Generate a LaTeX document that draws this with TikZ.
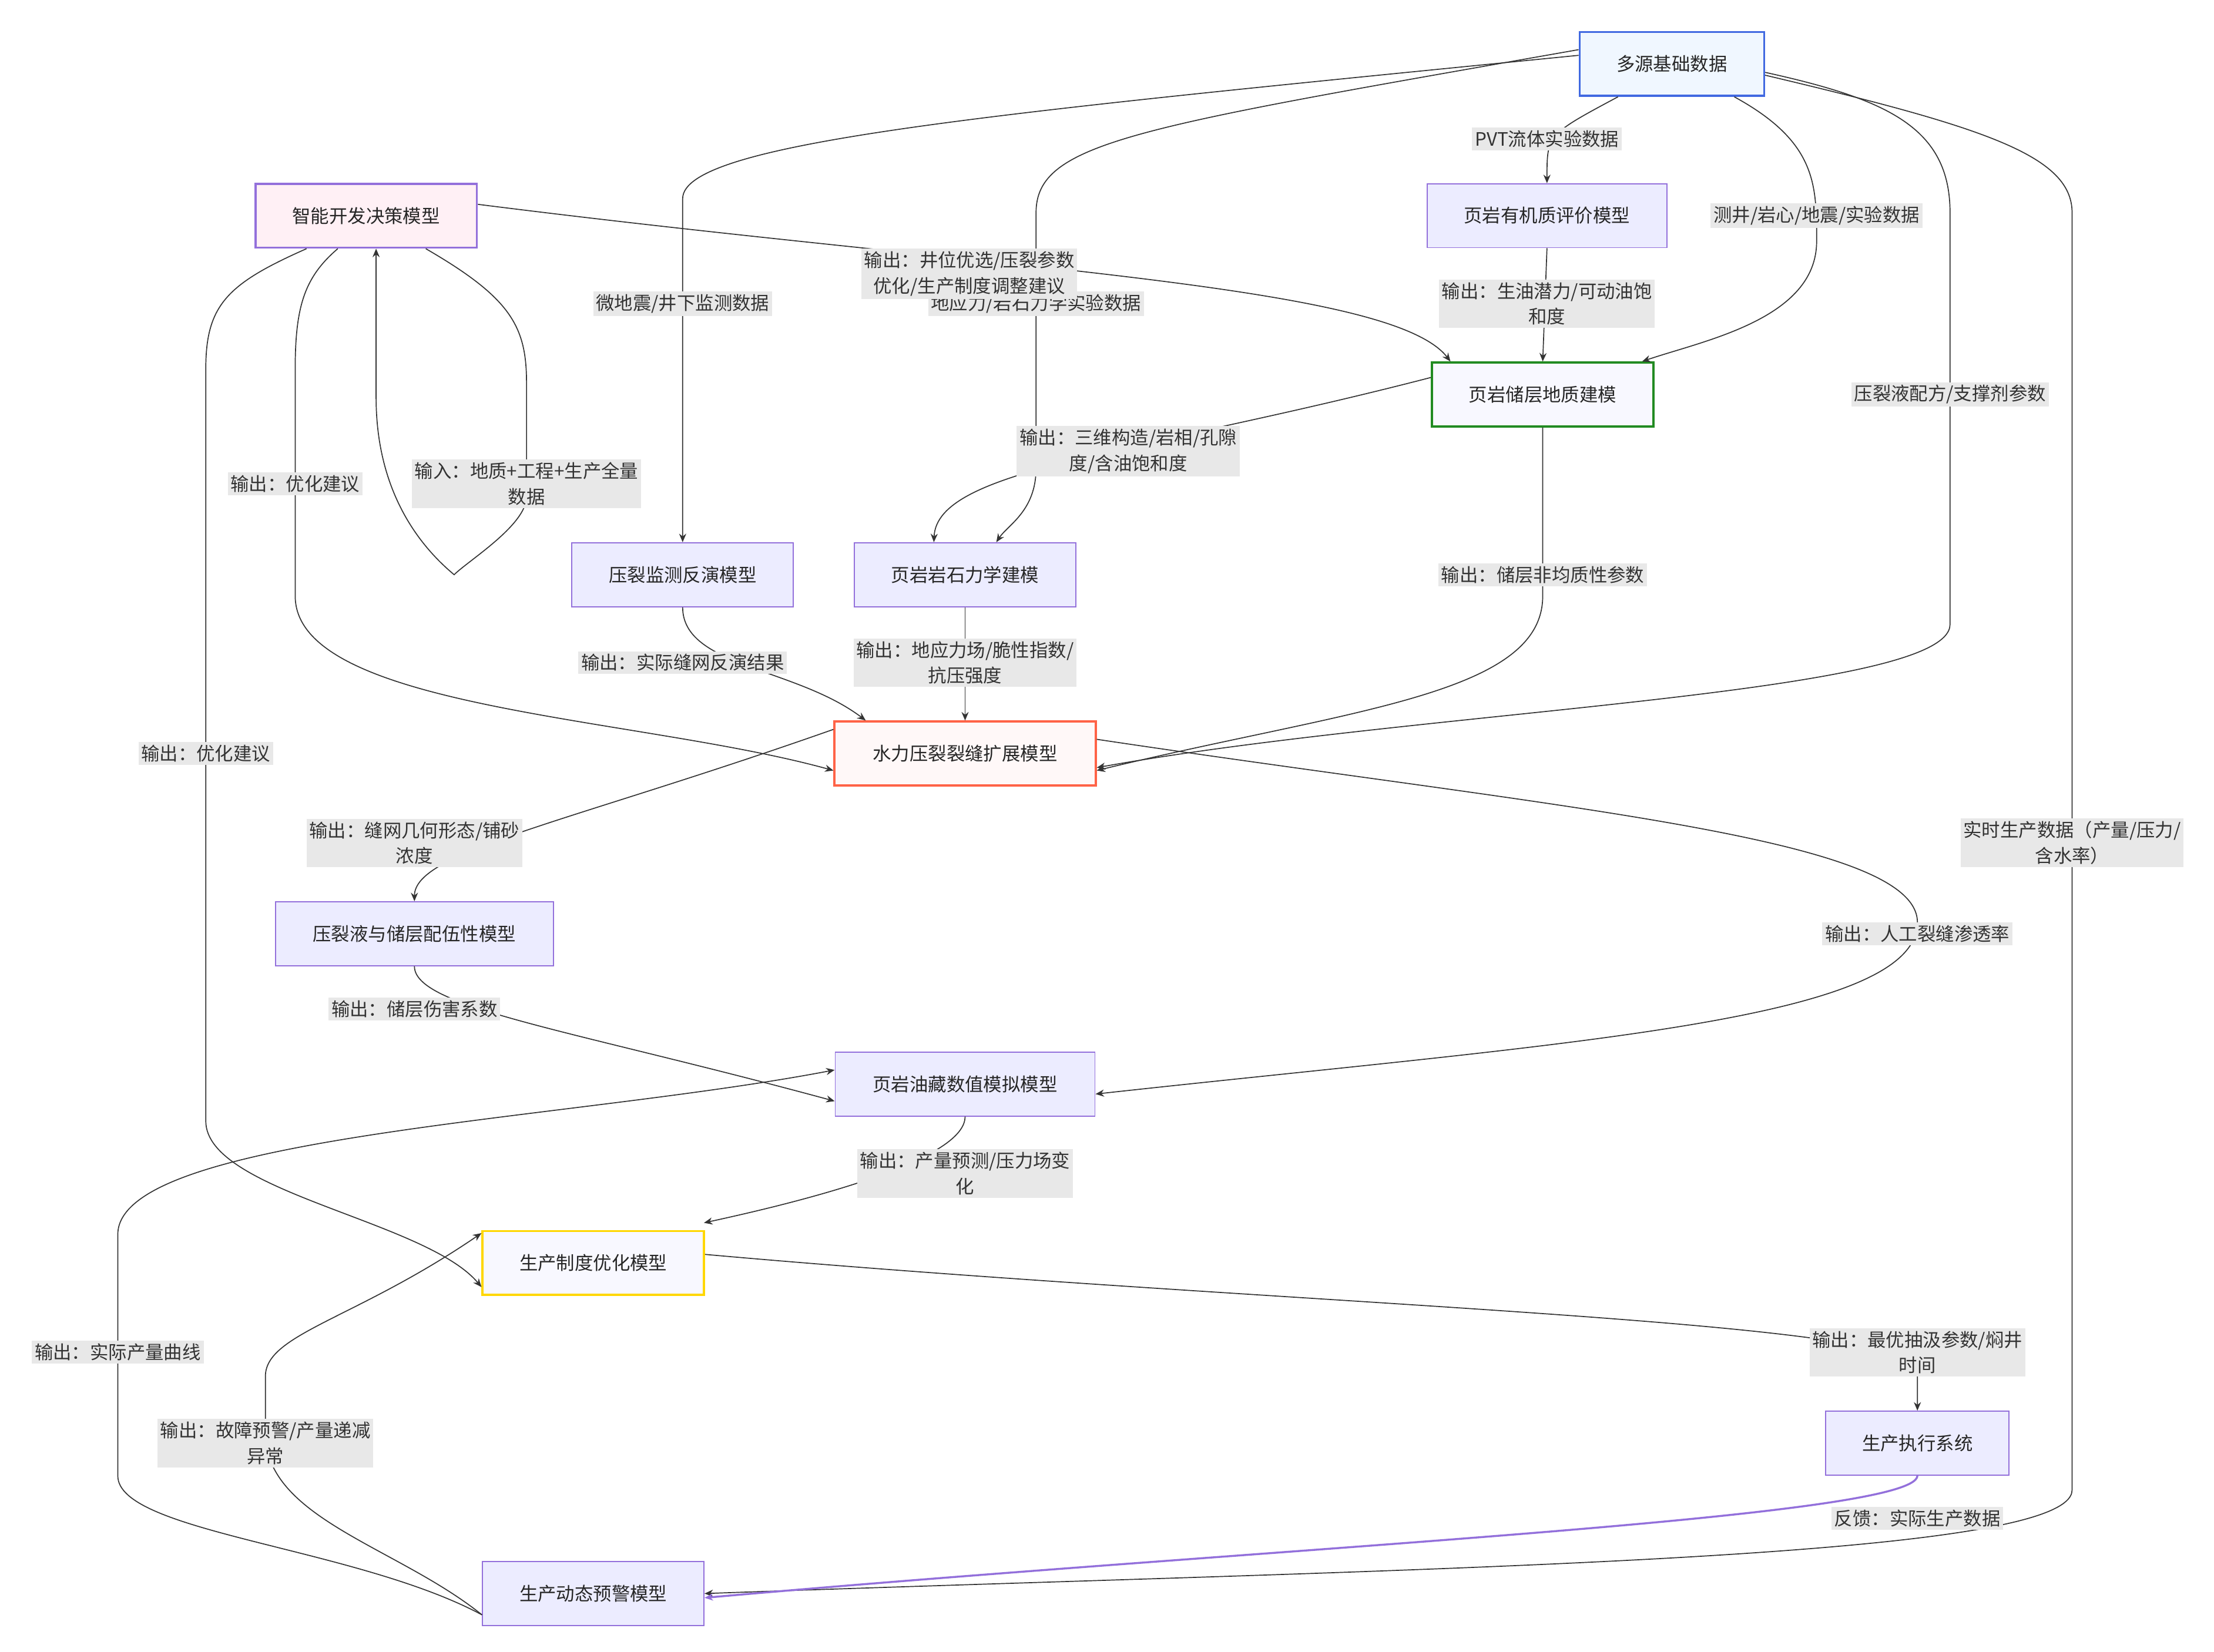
\documentclass[tikz,border=0pt]{standalone}
\usepackage{fontspec}
\setmainfont{Noto Sans CJK SC}
\usetikzlibrary{arrows.meta}
\definecolor{nfill}{HTML}{ECECFF}
\definecolor{nbord}{HTML}{9370DB}
\definecolor{lfill}{HTML}{E8E8E8}
\begin{document}
\begin{tikzpicture}[x=1pt,y=-1pt,
  box/.style={draw=nbord,fill=nfill,line width=0.8pt,minimum height=45pt,inner sep=0pt,font=\fontsize{13}{15}\selectfont,text=black!85},
  lab/.style={fill=lfill,align=center,font=\fontsize{13}{18}\selectfont,text=black!80,inner sep=2pt},
  e/.style={draw=black!80,line width=0.7pt,-{Stealth[length=6pt,width=5pt]}}]
\useasboundingbox (0,0) rectangle (1560,1164);
\fill[white] (0,0) rectangle (1560,1164);
% nodes
\node[box,minimum width=130pt,draw={rgb,255:red,65;green,105;blue,225},fill={rgb,255:red,240;green,247;blue,255},line width=1.5pt] (src) at (1178,45) {多源基础数据};
\node[box,minimum width=156pt,fill={rgb,255:red,255;green,240;blue,245},line width=1.5pt] (dec) at (258,152) {智能开发决策模型};
\node[box,minimum width=169pt] (org) at (1090,152) {页岩有机质评价模型};
\node[box,minimum width=156pt,draw={rgb,255:red,34;green,139;blue,34},fill={rgb,255:red,248;green,248;blue,255},line width=1.5pt] (geo) at (1087,278) {页岩储层地质建模};
\node[box,minimum width=156pt] (mon) at (481,405) {压裂监测反演模型};
\node[box,minimum width=156pt] (mech) at (680,405) {页岩岩石力学建模};
\node[box,minimum width=184pt,draw={rgb,255:red,255;green,99;blue,71},fill={rgb,255:red,255;green,248;blue,248},line width=1.5pt] (frac) at (680,531) {水力压裂裂缝扩展模型};
\node[box,minimum width=196pt] (fluid) at (292,658) {压裂液与储层配伍性模型};
\node[box,minimum width=183pt] (sim) at (680,764) {页岩油藏数值模拟模型};
\node[box,minimum width=156pt,draw={rgb,255:red,255;green,215;blue,0},fill={rgb,255:red,248;green,248;blue,255},line width=1.5pt] (prod) at (418,890) {生产制度优化模型};
\node[box,minimum width=129pt] (exec) at (1351,1017) {生产执行系统};
\node[box,minimum width=156pt] (warn) at (418,1123) {生产动态预警模型};
% edges
\draw[e] ([xshift=-38pt]src.south) .. controls (1090,95) .. (org.north);
\draw[e] ([xshift=44pt]src.south) .. controls (1280,100) and (1280,130) .. (1280,170) .. controls (1280,225) and (1200,240) .. ([xshift=70pt]geo.north);
\draw[e] ([yshift=6pt]src.west) .. controls (700,80) and (481,100) .. (481,140) -- (mon.north);
\draw[e] ([yshift=10pt]src.west) .. controls (800,90) and (730,100) .. (730,150) -- (730,330) .. controls (730,360) and (710,370) .. ([xshift=22pt]mech.north);
\draw[e] ([yshift=-6pt]src.east) .. controls (1330,70) and (1374,90) .. (1374,150) -- (1374,440) .. controls (1374,490) and (1000,500) .. ([yshift=-10pt]frac.east);
\draw[e] ([yshift=-8pt]src.east) .. controls (1400,90) and (1460,110) .. (1460,150) -- (1460,1050) .. controls (1460,1100) and (1000,1105) .. (warn.east);
\draw[e] (org.south) -- (geo.north);
\draw[e] ([yshift=12pt]geo.west) .. controls (800,320) and (660,330) .. ([xshift=-22pt]mech.north);
\draw[e] (geo.south) -- (1087,420) .. controls (1087,490) and (950,500) .. ([yshift=-12pt]frac.east);
\draw[e] (mon.south) .. controls (481,470) and (560,470) .. ([xshift=-70pt]frac.north);
\draw[e] (mech.south) -- (frac.north);
\draw[e] ([yshift=17pt]frac.west) .. controls (400,580) and (292,600) .. (fluid.north);
\draw[e] ([yshift=10pt]frac.east) .. controls (1100,570) and (1351,590) .. (1351,650) .. controls (1351,720) and (1100,735) .. ([yshift=-7pt]sim.east);
\draw[e] (fluid.south) .. controls (292,710) and (400,725) .. ([yshift=-12pt]sim.west);
\draw[e] (sim.south) .. controls (680,820) and (550,850) .. ([xshift=78pt,yshift=5pt]prod.north);
\draw[e] ([yshift=6pt]prod.east) .. controls (900,920) and (1351,930) .. (1351,965) -- (exec.north);
\draw[draw=nbord,line width=1.4pt,-{Stealth[length=6pt,width=5pt]}] (exec.south) .. controls (1351,1070) and (900,1090) .. ([yshift=-3pt]warn.east);
\draw[e] ([yshift=-15pt]warn.west) .. controls (250,1090) and (83,1080) .. (83,1040) -- (83,870) .. controls (83,800) and (400,790) .. ([yshift=10pt]sim.west);
\draw[e] ([yshift=-15pt]warn.west) .. controls (280,1090) and (187,1070) .. (187,1010) -- (187,970) .. controls (187,940) and (250,930) .. ([yshift=21pt]prod.west);
\draw[e] ([xshift=-20pt]dec.south) .. controls (215,195) and (208,215) .. (208,260) -- (208,420) .. controls (208,500) and (450,505) .. ([yshift=-12pt]frac.west);
\draw[e] ([xshift=-42pt]dec.south) .. controls (160,200) and (145,215) .. (145,260) -- (145,790) .. controls (145,840) and (300,860) .. ([yshift=-17pt]prod.west);
\draw[e] ([yshift=8pt]dec.east) .. controls (700,190) and (980,200) .. ([xshift=-65pt]geo.north);
\draw[e] ([xshift=42pt]dec.south) .. controls (360,210) and (371,230) .. (371,270) -- (371,350) .. controls (371,370) and (330,395) .. (320,405) .. controls (290,380) and (265,340) .. (265,280) -- ([xshift=7pt]dec.south);
% labels
\node[lab] (l1) at (1090,98) {PVT流体实验数据};
\node[lab] (l2) at (1280,152) {测井/岩心/地震/实验数据};
\node[lab] (l3) at (481,214) {微地震/井下监测数据};
\node[lab] (l4) at (730,214) {地应力/岩石力学实验数据};
\node[lab] (l5) at (1374,278) {压裂液配方/支撑剂参数};
\node[lab] (l6) at (1460,594) {实时生产数据（产量/压力/\\含水率）};
\node[lab] (l7) at (1090,214) {输出：生油潜力/可动油饱\\和度};
\node[lab] (l8) at (795,318) {输出：三维构造/岩相/孔隙\\度/含油饱和度};
\node[lab] (l9) at (1087,405) {输出：储层非均质性参数};
\node[lab] (l10) at (481,467) {输出：实际缝网反演结果};
\node[lab] (l11) at (680,467) {输出：地应力场/脆性指数/\\抗压强度};
\node[lab] (l12) at (292,594) {输出：缝网几何形态/铺砂\\浓度};
\node[lab] (l13) at (1351,658) {输出：人工裂缝渗透率};
\node[lab] (l14) at (292,711) {输出：储层伤害系数};
\node[lab] (l15) at (680,827) {输出：产量预测/压力场变\\化};
\node[lab] (l16) at (1351,953) {输出：最优抽汲参数/焖井\\时间};
\node[lab] (l17) at (1351,1070) {反馈：实际生产数据};
\node[lab] (l18) at (83,953) {输出：实际产量曲线};
\node[lab] (l19) at (187,1017) {输出：故障预警/产量递减\\异常};
\node[lab] (l20) at (208,341) {输出：优化建议};
\node[lab] (l21) at (145,531) {输出：优化建议};
\node[lab] (l22) at (683,193) {输出：井位优选/压裂参数\\优化/生产制度调整建议};
\node[lab] (l23) at (371,341) {输入：地质+工程+生产全量\\数据};
\end{tikzpicture}
\end{document}
